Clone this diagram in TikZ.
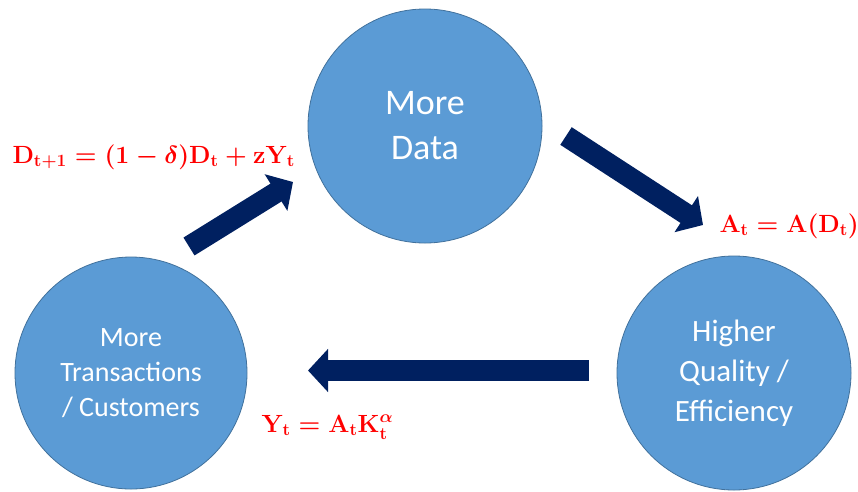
\documentclass[tikz,border=0pt]{standalone}
\usepackage{amsmath}
\usepackage[no-math]{fontspec}
\setmainfont{Carlito}
\usetikzlibrary{arrows.meta}
\definecolor{Bubble}{HTML}{5B9BD5}
\definecolor{BubbleEdge}{HTML}{41719C}
\definecolor{Navy}{HTML}{002060}

\begin{document}
\begin{tikzpicture}[x=1pt,y=1pt,
    bubble/.style={circle,fill=Bubble,draw=BubbleEdge,line width=.8pt,minimum size=234pt,inner sep=0pt,text=white,align=center},
    bigarrow/.style={Navy,line width=21pt,-{Triangle[length=20pt,width=42pt]}},
    eqn/.style={anchor=base west,text=red,font=\fontsize{24}{28}\selectfont\boldmath}]
  \useasboundingbox(0,0)rectangle(858,-491);
  % the three bubbles
  \node[bubble,font=\fontsize{36}{45}\selectfont](data)at(425,-126){More\\Data};
  \node[bubble,minimum size=232pt,font=\fontsize{28}{35}\selectfont](cust)at(131,-373){More\\Transactions\\/ Customers};
  \node[bubble,font=\fontsize{31}{40}\selectfont](qual)at(734,-373){Higher\\Quality /\\Efficiency};
  % arrow ends
  \coordinate(c2d)at(189,-246.5);\coordinate(d2c)at(293,-182);
  \coordinate(d2q)at(566,-136);\coordinate(q2d)at(703,-225);
  \coordinate(q2c)at(589,-370.5);\coordinate(c2q)at(308,-370.5);
  \draw[bigarrow](c2d)--(d2c);
  \draw[bigarrow](d2q)--(q2d);
  \draw[bigarrow](q2c)--(c2q);
  % equations
  \node[eqn](eqD)at(9,-163){$\mathbf{D_{t+1}=(1-\delta)D_t+zY_t}$};
  \node[eqn](eqA)at(716,-232){$\mathbf{A_t=A(D_t)}$};
  \node[eqn](eqY)at(258,-432){$\mathbf{Y_t=A_tK_t^{\alpha}}$};
\end{tikzpicture}
\end{document}
